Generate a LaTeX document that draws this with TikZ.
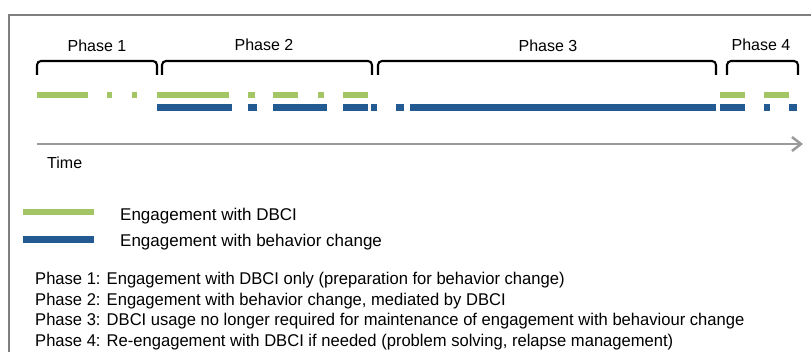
\documentclass[tikz,border=0pt]{standalone}
\usepackage{fontspec}
\setmainfont{Liberation Sans}
\usetikzlibrary{arrows.meta}
\definecolor{dbcigreen}{HTML}{A3C565}
\definecolor{bcblue}{HTML}{245A92}
\definecolor{framegray}{HTML}{7F7F7F}
\definecolor{axisgray}{HTML}{9B9B9B}
\tikzset{
  phasebrace/.style={black, line width=2.1pt, rounded corners=4pt},
  dbciseg/.style={dbcigreen, line width=6pt},
  bcseg/.style={bcblue, line width=7pt},
  phaselabel/.style={font=\fontsize{16}{19}\selectfont, anchor=base, inner sep=0pt},
  legendtext/.style={font=\fontsize{17}{20}\selectfont, anchor=base west, inner sep=0pt},
  notetext/.style={font=\fontsize{17}{20}\selectfont, anchor=base west, inner sep=0pt,
                   transform shape, xscale=0.975},
  timeaxis/.style={axisgray, line width=2.5pt, -{Straight Barb[length=9pt,width=14pt]}},
}
\begin{document}
\begin{tikzpicture}[x=1pt,y=-1pt]
\useasboundingbox (0,0) rectangle (811,352);
\clip (0,0) rectangle (811,352);

% outer frame (top and left edges)
\draw[framegray, line width=1.3pt] (9,400) |- (900,15);

% phase brackets
\foreach \a/\b in {37/157,162/372,378/716,727/798}
  \draw[phasebrace] (\a,75) |- (\b,61) -- (\b,75);

% phase labels
\node[phaselabel] (p1) at (97,52) {Phase 1};
\node[phaselabel] (p2) at (264,51) {Phase 2};
\node[phaselabel] (p3) at (548,52) {Phase 3};
\node[phaselabel] (p4) at (761,51) {Phase 4};

% engagement with the DBCI
\foreach \a/\b in {37/88,107/112,132/137,157/229,248/255,273/298,318/324,343/368,720/745,764/789}
  \draw[dbciseg] (\a,95) -- (\b,95);

% engagement with behaviour change
\foreach \a/\b in {157/232,248/257,273/327,343/368,371/377,396/404,410/716,720/745,764/770,789/797}
  \draw[bcseg] (\a,108) -- (\b,108);

% time axis
\coordinate (t0) at (37,144);
\coordinate (t1) at (803,144);
\draw[timeaxis] (t0) -- (t1);
\node[legendtext, font=\fontsize{16}{19}\selectfont] (time) at (47,169) {Time};

% legend
\coordinate (lg0) at (23,212);
\coordinate (lg1) at (94,212);
\coordinate (lb0) at (23,240);
\coordinate (lb1) at (94,240);
\draw[dbciseg] (lg0) -- (lg1);
\draw[bcseg] (lb0) -- (lb1);
\node[legendtext] (lgtext) at (120,221) {Engagement with DBCI};
\node[legendtext] (lbtext) at (120,247) {Engagement with behavior change};

% phase descriptions
\node[notetext] (n1) at (35,285) {Phase 1: Engagement with DBCI only (preparation for behavior change)};
\node[notetext] (n2) at (35,305.5) {Phase 2: Engagement with behavior change, mediated by DBCI};
\node[notetext] (n3) at (35,326) {Phase 3: DBCI usage no longer required for maintenance of engagement with behaviour change};
\node[notetext] (n4) at (35,346.5) {Phase 4: Re-engagement with DBCI if needed (problem solving, relapse management)};
\end{tikzpicture}
\end{document}
